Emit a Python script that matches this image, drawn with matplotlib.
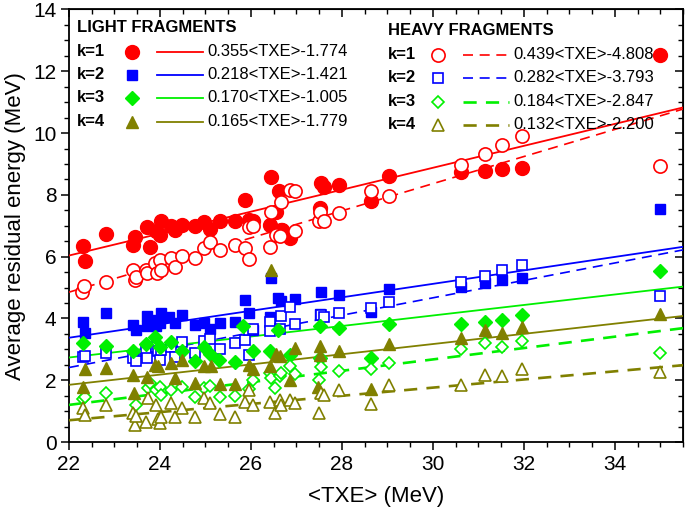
import numpy as np
import matplotlib
matplotlib.use("Agg")
import matplotlib.pyplot as plt
from matplotlib.ticker import MultipleLocator

plt.rcParams["font.family"] = ["Liberation Sans", "DejaVu Sans"]

# light fragments (filled markers), k = 1..4
light_k1_x = [22.30, 22.35, 22.81, 23.41, 23.45, 23.72, 23.78, 23.92, 24.00, 24.03, 24.25, 24.32, 24.49,
              24.76, 24.96, 25.11, 25.33, 25.66, 25.86, 25.95, 26.04, 26.41, 26.44, 26.55, 26.61, 26.66,
              26.68, 26.85, 27.52, 27.54, 27.61, 27.94, 28.64, 29.04, 30.61, 31.14, 31.52, 31.96, 35.00]
light_k1_y = [6.33, 5.86, 6.74, 6.38, 6.65, 6.96, 6.31, 6.82, 6.71, 7.14, 7.00, 6.87, 7.03,
              7.00, 7.11, 6.89, 7.14, 7.14, 7.84, 7.19, 7.14, 7.03, 8.58, 7.46, 8.11, 6.87,
              6.87, 6.60, 7.57, 8.38, 8.27, 8.33, 7.79, 8.60, 8.73, 8.76, 8.84, 8.87, 12.54]

light_k2_x = [22.30, 22.35, 22.81, 23.41, 23.47, 23.72, 23.72, 23.85, 23.92, 24.03, 24.00, 24.21, 24.32,
              24.49, 24.76, 24.96, 25.11, 25.33, 25.66, 25.86, 25.95, 26.04, 26.41, 26.44, 26.59, 26.66,
              26.96, 27.54, 27.52, 27.94, 28.64, 29.04, 30.61, 31.14, 31.52, 31.96, 35.00]
light_k2_y = [3.90, 3.54, 4.17, 3.79, 3.63, 4.08, 3.74, 3.95, 3.74, 4.17, 3.85, 4.04, 3.85,
              4.12, 3.79, 3.85, 3.65, 3.85, 3.87, 4.60, 4.17, 3.63, 4.06, 5.30, 4.66, 4.58,
              4.62, 4.87, 4.13, 4.76, 4.22, 4.95, 5.01, 5.16, 5.23, 5.30, 7.55]

light_k3_x = [22.30, 22.81, 23.41, 23.70, 23.89, 24.00, 24.25, 24.49, 24.76, 24.96, 25.11, 25.30, 25.66,
              25.82, 26.04, 26.41, 26.59, 26.85, 27.52, 27.52, 27.94, 28.64, 29.04, 30.61, 31.14, 31.52,
              31.96, 35.00]
light_k3_y = [3.20, 3.11, 2.96, 3.18, 3.39, 3.09, 3.25, 2.96, 2.63, 3.09, 2.85, 2.66, 2.60,
              3.74, 2.96, 2.96, 3.63, 2.82, 3.74, 2.71, 3.68, 2.71, 3.82, 3.82, 3.90, 3.95,
              4.12, 5.55]

light_k4_x = [22.30, 22.35, 22.81, 23.41, 23.43, 23.72, 23.89, 23.96, 24.25, 24.32, 24.49, 24.76, 24.96,
              25.13, 25.33, 25.66, 25.95, 26.04, 26.41, 26.44, 26.55, 26.63, 26.85, 26.96, 27.47, 27.52,
              27.52, 27.94, 28.64, 29.04, 30.61, 31.14, 31.52, 31.96, 35.00]
light_k4_y = [1.77, 2.36, 2.39, 2.17, 1.58, 2.12, 2.50, 2.46, 2.55, 2.06, 2.66, 1.90, 2.46,
              2.46, 1.88, 1.88, 2.50, 2.36, 2.46, 5.57, 2.85, 2.79, 2.01, 3.04, 1.79, 3.11,
              2.82, 2.96, 1.71, 3.18, 3.36, 3.61, 3.54, 3.72, 4.14]

# heavy fragments (open markers), k = 1..4
heavy_k1_x = [22.28, 22.33, 22.81, 23.41, 23.45, 23.47, 23.69, 23.72, 23.89, 23.94, 24.00, 24.03, 24.25,
              24.32, 24.49, 24.76, 24.96, 25.11, 25.33, 25.66, 25.86, 25.95, 25.95, 26.04, 26.41, 26.44,
              26.55, 26.63, 26.66, 26.85, 26.96, 26.96, 27.50, 27.52, 27.61, 27.94, 28.64, 29.04, 30.61,
              31.14, 31.52, 31.96, 35.00]
heavy_k1_y = [4.84, 5.05, 5.19, 5.57, 5.25, 5.34, 5.57, 5.47, 5.79, 5.47, 5.90, 5.57, 5.95,
              5.68, 6.01, 5.95, 6.28, 6.49, 6.20, 6.38, 6.28, 5.92, 6.96, 7.00, 6.31, 7.43,
              6.71, 6.68, 7.76, 8.17, 8.14, 6.82, 7.14, 7.46, 7.14, 7.41, 8.11, 7.97, 8.98,
              9.33, 9.62, 9.89, 8.92]

heavy_k2_x = [22.30, 22.35, 22.81, 23.41, 23.47, 23.70, 23.72, 23.92, 23.96, 24.00, 24.03, 24.25, 24.32,
              24.49, 24.76, 24.96, 25.11, 25.33, 25.66, 25.86, 25.95, 25.95, 26.04, 26.41, 26.41, 26.63,
              26.66, 26.85, 26.96, 27.54, 27.61, 27.94, 28.64, 29.04, 30.61, 31.14, 31.52, 31.96, 35.00]
heavy_k2_y = [2.74, 2.79, 2.87, 2.71, 2.63, 2.96, 2.71, 3.09, 2.93, 2.66, 2.98, 3.09, 2.76,
              3.25, 2.89, 3.28, 3.33, 3.00, 3.20, 3.31, 3.63, 2.82, 3.65, 3.87, 3.58, 3.65,
              4.08, 4.36, 3.82, 4.12, 4.04, 4.17, 4.33, 4.52, 5.19, 5.38, 5.57, 5.74, 4.73]

heavy_k3_x = [22.30, 22.35, 22.81, 23.47, 23.74, 23.78, 23.92, 24.00, 24.03, 24.25, 24.49, 24.76, 24.96,
              25.11, 25.33, 25.66, 25.95, 26.04, 26.41, 26.44, 26.52, 26.63, 26.66, 26.85, 26.96, 27.50,
              27.54, 27.94, 28.64, 29.04, 30.61, 31.14, 31.52, 31.96, 35.00]
heavy_k3_y = [1.40, 1.45, 1.58, 1.20, 1.74, 1.90, 1.68, 1.79, 1.52, 1.68, 1.79, 1.45, 1.74,
              1.81, 1.45, 1.49, 1.71, 2.01, 2.23, 2.06, 1.74, 2.14, 2.23, 2.46, 2.20, 2.01,
              2.42, 2.31, 2.36, 2.57, 3.00, 3.22, 3.07, 3.28, 2.87]

heavy_k4_x = [22.30, 22.35, 22.81, 23.41, 23.45, 23.47, 23.70, 23.74, 23.92, 23.96, 24.00, 24.03, 24.25,
              24.32, 24.49, 24.76, 24.96, 25.11, 25.33, 25.66, 25.86, 25.95, 26.04, 26.41, 26.52, 26.63,
              26.66, 26.85, 26.96, 27.50, 27.54, 27.61, 27.94, 28.64, 29.04, 30.61, 31.14, 31.52, 31.96,
              35.00]
heavy_k4_y = [1.09, 0.87, 1.20, 0.93, 0.55, 0.84, 0.66, 1.42, 1.20, 0.73, 0.63, 0.82, 1.25,
              0.80, 1.09, 0.82, 1.42, 1.25, 0.91, 0.80, 1.31, 1.68, 1.20, 1.31, 0.93, 1.36,
              1.20, 1.36, 1.27, 0.95, 1.58, 1.52, 1.68, 1.23, 1.85, 1.85, 2.17, 2.14, 2.36,
              2.28]

# linear fits shown in the legend: slope, intercept
light_slope = [0.355, 0.218, 0.170, 0.165]
light_icpt = [-1.774, -1.421, -1.005, -1.779]
heavy_slope = [0.439, 0.282, 0.184, 0.132]
heavy_icpt = [-4.808, -3.793, -2.847, -2.200]

k_labels = ["k=1", "k=2", "k=3", "k=4"]
colors = ["#ff0000", "#0000ff", "#00f000", "#808000"]
markers = ["o", "s", "D", "^"]
msizes = [10, 7.5, 7, 8.5]

light_x = [light_k1_x, light_k2_x, light_k3_x, light_k4_x]
light_y = [light_k1_y, light_k2_y, light_k3_y, light_k4_y]
heavy_x = [heavy_k1_x, heavy_k2_x, heavy_k3_x, heavy_k4_x]
heavy_y = [heavy_k1_y, heavy_k2_y, heavy_k3_y, heavy_k4_y]

# dashed style: thin short dashes for k=1,2, thicker for k=3,4
heavy_lw = [1.2, 1.2, 1.9, 1.9]
heavy_dash = [(6, 4), (6, 4), (5, 3.5), (5, 3.5)]

fig = plt.figure(figsize=(6.85, 5.16), dpi=100)
ax = fig.add_axes([0.1007, 0.1434, 0.8964, 0.8382])

xfit = np.array([22.0, 35.5])
for i in range(4):
    c = colors[i]
    ax.plot(xfit, light_slope[i] * xfit + light_icpt[i], color=c, lw=1.3, zorder=3)
    ax.plot(xfit, heavy_slope[i] * xfit + heavy_icpt[i], color=c, lw=heavy_lw[i],
            dashes=heavy_dash[i], zorder=3)
    ax.plot(light_x[i], light_y[i], ls="none", marker=markers[i], ms=msizes[i],
            color=c, mec=c, zorder=4)
    ax.plot(heavy_x[i], heavy_y[i], ls="none", marker=markers[i], ms=msizes[i] - 0.5,
            mfc="white", mec=c, mew=1.2, zorder=4)

ax.set_xlim(22, 35.5)
ax.set_ylim(0, 14)
ax.xaxis.set_major_locator(MultipleLocator(2))
ax.xaxis.set_minor_locator(MultipleLocator(0.5))
ax.yaxis.set_major_locator(MultipleLocator(2))
ax.yaxis.set_minor_locator(MultipleLocator(0.5))
ax.tick_params(which="major", direction="out", length=6, width=1.1, labelsize=15, pad=3)
ax.tick_params(which="minor", direction="out", length=3.5, width=1.0)
for s in ax.spines.values():
    s.set_linewidth(1.3)

# top and right ticks point inward
top = ax.secondary_xaxis("top")
top.xaxis.set_major_locator(MultipleLocator(2))
top.xaxis.set_minor_locator(MultipleLocator(0.5))
top.tick_params(which="major", direction="in", length=6, width=1.1, labeltop=False)
top.tick_params(which="minor", direction="in", length=3.5, width=1.0)
right = ax.secondary_yaxis("right")
right.yaxis.set_major_locator(MultipleLocator(2))
right.yaxis.set_minor_locator(MultipleLocator(0.5))
right.tick_params(which="major", direction="in", length=6, width=1.1, labelright=False)
right.tick_params(which="minor", direction="in", length=3.5, width=1.0)

ax.set_xlabel("<TXE> (MeV)", fontsize=16, labelpad=9)
ax.set_ylabel("Average residual energy (MeV)", fontsize=16, labelpad=5)


# hand-made legend, axes-fraction coordinates
def fx(px):
    return (px - 69) / 614.0


def fy(py):
    return (442 - py) / 432.5


tr = ax.transAxes
ax.text(fx(77), fy(28), "LIGHT FRAGMENTS", transform=tr, fontsize=12,
        fontweight="bold", va="center", ha="left")
ax.text(fx(388), fy(31), "HEAVY FRAGMENTS", transform=tr, fontsize=12,
        fontweight="bold", va="center", ha="left")
light_rows = [52, 75, 98, 122]
heavy_rows = [55, 78, 102, 125]
for i in range(4):
    c = colors[i]
    yl = fy(light_rows[i])
    ax.text(fx(77), yl, k_labels[i], transform=tr, fontsize=12, fontweight="bold",
            va="center", ha="left")
    ax.plot([fx(132)], [yl], transform=tr, marker=markers[i], ms=msizes[i], color=c,
            ls="none", clip_on=False)
    ax.plot([fx(157), fx(203)], [yl, yl], transform=tr, color=c, lw=1.3)
    ax.text(fx(207), yl, "%.3f<TXE>%.3f" % (light_slope[i], light_icpt[i]), transform=tr,
            fontsize=12, va="center", ha="left")

    yh = fy(heavy_rows[i])
    ax.text(fx(388), yh, k_labels[i], transform=tr, fontsize=12, fontweight="bold",
            va="center", ha="left")
    ax.plot([fx(438)], [yh], transform=tr, marker=markers[i], ms=msizes[i] - 0.5,
            mfc="white", mec=c, mew=1.2, ls="none")
    ax.plot([fx(463), fx(509)], [yh, yh], transform=tr, color=c, lw=heavy_lw[i],
            dashes=heavy_dash[i])
    ax.text(fx(513), yh, "%.3f<TXE>%.3f" % (heavy_slope[i], heavy_icpt[i]), transform=tr,
            fontsize=12, va="center", ha="left")

fig.savefig("out.png", dpi=100)
